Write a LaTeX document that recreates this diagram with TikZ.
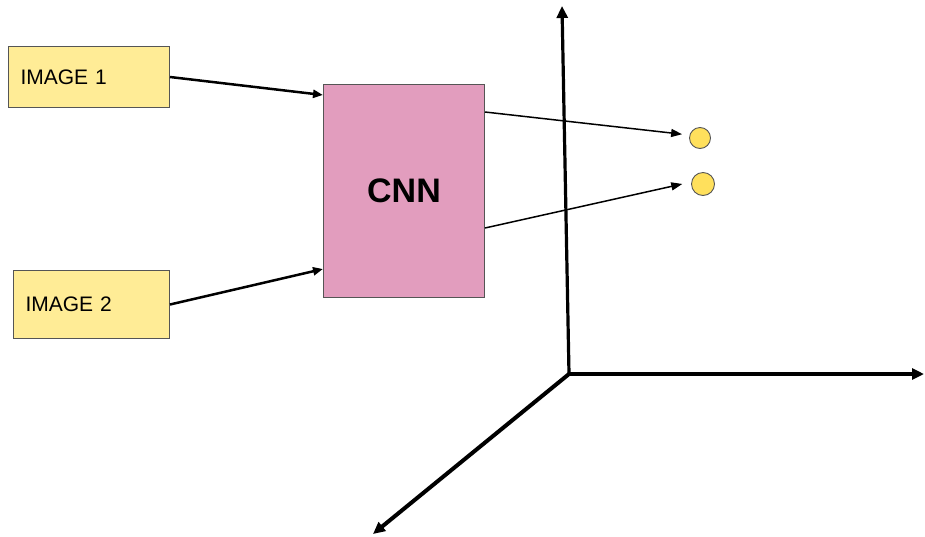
\documentclass[tikz,border=0pt]{standalone}
\usepackage{fontspec}
\setmainfont{Liberation Sans}
\usetikzlibrary{arrows.meta}
\definecolor{imgfill}{HTML}{FFEC96}
\definecolor{cnnfill}{HTML}{E29DBE}
\definecolor{dotfill}{HTML}{FFE05C}
\definecolor{edge}{HTML}{555555}
\begin{document}
\begin{tikzpicture}[x=1pt,y=-1pt,
  imgbox/.style={draw=edge, line width=1pt, fill=imgfill, rectangle,
    minimum height=61pt, inner xsep=12pt, text width=137pt, align=left,
    font=\fontsize{21}{24}\selectfont, anchor=north west},
  cnnbox/.style={draw=edge, line width=1pt, fill=cnnfill, rectangle,
    minimum width=161pt, minimum height=213pt, anchor=north west,
    font=\fontsize{34}{38}\selectfont\bfseries},
  dot/.style={draw=edge, line width=0.9pt, fill=dotfill, circle, inner sep=0pt},
  inarrow/.style={line width=2.5pt, -{Triangle[length=10pt,width=8pt]}},
  outarrow/.style={line width=1.5pt, -{Triangle[length=11pt,width=8pt]}},
  axis/.style={line width=3.2pt, -{Triangle[length=12pt,width=11pt]}}
]
\useasboundingbox (0,0) rectangle (925,536);

% input images and network
\node[imgbox, minimum width=161pt] (img1) at (8,46) {IMAGE 1};
\node[imgbox, minimum width=156pt, minimum height=68pt, text width=132pt] (img2) at (13,270) {IMAGE 2};
\node[cnnbox] (cnn) at (323,84) {CNN};

% embeddings
\node[dot, minimum size=21pt] (dot1) at (700,138) {};
\node[dot, minimum size=23pt] (dot2) at (703,184) {};

% 3D axes
\coordinate (origin) at (569,374);
\coordinate (ytip) at (562,6);
\coordinate (xtip) at (924,374);
\coordinate (ztip) at (373,534);
\draw[axis] (origin) -- (ytip);
\draw[axis] (origin) -- (xtip);
\draw[axis, line width=4pt] (origin) -- (ztip);

% connectors
\draw[inarrow] (img1.east) -- ([yshift=-11pt]cnn.north west);
\draw[inarrow] (img2.east) -- ([yshift=29pt]cnn.south west);
\draw[outarrow, shorten >=7pt] ([yshift=-28pt]cnn.north east) -- ([yshift=3pt]dot1.west);
\draw[outarrow, shorten >=9pt] ([yshift=-144pt]cnn.north east) -- ([yshift=2pt]dot2.west);
\end{tikzpicture}
\end{document}
